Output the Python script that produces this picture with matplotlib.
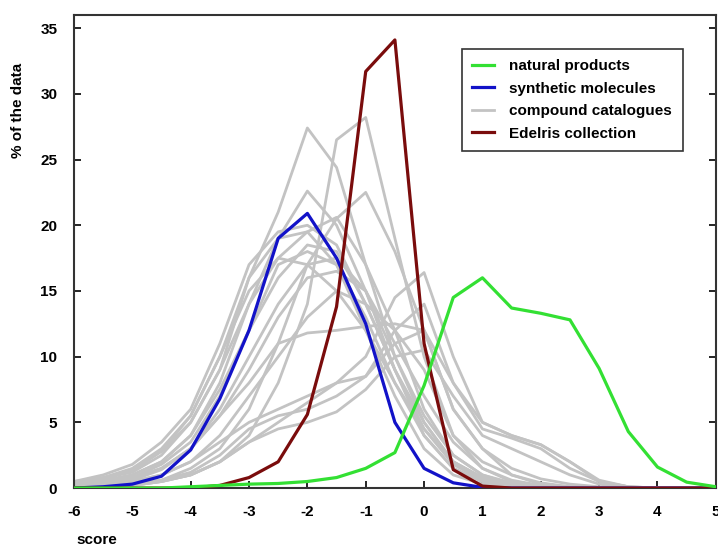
import numpy as np
import matplotlib
matplotlib.use("Agg")
import matplotlib.pyplot as plt

plt.rcParams['font.family'] = ['Liberation Sans', 'DejaVu Sans']
plt.rcParams['font.weight'] = 'bold'
plt.rcParams['axes.unicode_minus'] = False

# score bins
score = np.arange(-6, 5.01, 0.5)

natural_products = [0, 0, 0, 0, 0.1, 0.2, 0.3, 0.35, 0.5, 0.8, 1.5, 2.7,
                    7.8, 14.5, 16.0, 13.7, 13.3, 12.8, 9.1, 4.3, 1.6, 0.45, 0.1]
synthetic_molecules = [0, 0.1, 0.3, 0.9, 2.9, 6.8, 12.0, 19.0, 20.9, 17.5, 12.5,
                       5.0, 1.5, 0.4, 0.05, 0, 0, 0, 0, 0, 0, 0, 0]
edelris_collection = [0, 0, 0, 0, 0, 0.2, 0.8, 2.0, 5.6, 13.8, 31.7, 34.1,
                      11.0, 1.4, 0.15, 0, 0, 0, 0, 0, 0, 0, 0]

# compound catalogues (one row per vendor)
compound_catalogues = [
    [0.5, 0.8, 1.2, 2.5, 5, 9, 16, 21, 27.4, 24.4, 17, 10, 5, 2, 0.8, 0.3, 0.1, 0, 0, 0, 0, 0, 0],
    [0, 0, 0.2, 0.5, 1, 2, 4, 8, 14, 26.5, 28.2, 19, 10, 4, 1.5, 0.5, 0.2, 0, 0, 0, 0, 0, 0],
    [0.3, 0.6, 1, 2, 4, 8, 14, 19, 22.6, 20, 15, 9, 4, 1.5, 0.5, 0.2, 0, 0, 0, 0, 0, 0, 0],
    [0, 0, 0.3, 0.6, 1.5, 3, 6, 11, 17, 20.5, 22.5, 18, 12, 6, 3, 1, 0.3, 0.1, 0, 0, 0, 0, 0],
    [0.2, 0.4, 0.8, 1.5, 3, 5.5, 8, 11, 11.8, 12, 12.3, 12.5, 12, 6, 3, 1.5, 0.7, 0.3, 0.1, 0, 0, 0, 0],
    [0, 0, 0.2, 0.5, 1, 2, 3.5, 5, 6.5, 8, 10, 14.5, 16.4, 10, 5, 4, 3.3, 2, 0.5, 0.1, 0, 0, 0],
    [0, 0.2, 0.5, 1, 2, 3.5, 5, 6, 7, 8, 8.5, 12, 14, 8, 4.5, 3.8, 3, 1.5, 0.5, 0.1, 0, 0, 0],
    [0.5, 1, 1.8, 3.5, 6, 11, 17, 19.5, 20, 18.5, 14, 9, 4.5, 1.8, 0.6, 0.2, 0, 0, 0, 0, 0, 0, 0],
    [0.3, 0.7, 1.3, 2.8, 5, 9, 14, 17.5, 19.5, 20.6, 17, 12, 6, 2.5, 1, 0.3, 0.1, 0, 0, 0, 0, 0, 0],
    [0.2, 0.5, 1, 2, 4, 7.5, 12, 16, 18.5, 18, 14, 9, 5, 2, 0.7, 0.2, 0, 0, 0, 0, 0, 0, 0],
    [0.2, 0.4, 0.8, 1.8, 3.5, 7, 12, 17, 18, 17, 13, 8, 4, 1.5, 0.5, 0.1, 0, 0, 0, 0, 0, 0, 0],
    [0.1, 0.3, 0.6, 1.4, 3, 6, 10, 14, 17, 17.5, 15, 10, 5.5, 2.5, 1, 0.4, 0.1, 0, 0, 0, 0, 0, 0],
    [0.4, 0.8, 1.5, 3, 5.5, 10, 15, 17.5, 17, 15, 12, 8, 4.5, 2, 0.8, 0.3, 0.1, 0, 0, 0, 0, 0, 0],
    [0.1, 0.3, 0.7, 1.5, 3, 5.5, 9, 13, 16, 16.5, 15, 11, 7, 3.5, 1.5, 0.6, 0.2, 0, 0, 0, 0, 0, 0],
    [0, 0.2, 0.5, 1, 2, 4, 7, 10, 13, 15, 14, 12, 9, 4, 2, 1, 0.4, 0.1, 0, 0, 0, 0, 0],
    [0, 0.1, 0.3, 0.6, 1.2, 2.5, 4.5, 5.5, 6, 7, 8.5, 11, 12, 8, 5, 4, 3.3, 2, 0.6, 0.1, 0, 0, 0],
    [0, 0.1, 0.2, 0.5, 1, 2, 3.5, 4.5, 5, 5.8, 7.5, 10, 10.5, 7, 4, 3, 2, 1, 0.3, 0, 0, 0, 0],
    [0.3, 0.7, 1.4, 2.8, 5.5, 10, 16, 19, 19.5, 17, 12, 7, 3, 1, 0.3, 0.1, 0, 0, 0, 0, 0, 0, 0],
]

fig = plt.figure(figsize=(7.18, 5.54), dpi=100)
ax = fig.add_axes([0.103, 0.119, 0.894, 0.854])

for i, cat in enumerate(compound_catalogues):
    ax.plot(score, cat, color='#c3c3c3', lw=2.0,
            label='compound catalogues' if i == 0 else None, zorder=2)

ax.plot(score, synthetic_molecules, color='#1212c8', lw=2.3, label='synthetic molecules', zorder=3)
ax.plot(score, edelris_collection, color='#7a0c0c', lw=2.3, label='Edelris collection', zorder=4)
ax.plot(score, natural_products, color='#33e033', lw=2.3, label='natural products', zorder=5)

ax.set_xlim(-6, 5)
ax.set_ylim(0, 36)
ax.set_xticks(range(-6, 6))
ax.set_yticks(range(0, 36, 5))
ax.tick_params(direction='in', length=5, width=1.2, labelsize=11, pad=12,
               top=False, right=True)
for lab in ax.get_xticklabels() + ax.get_yticklabels():
    lab.set_fontweight('bold')
for sp in ax.spines.values():
    sp.set_linewidth(1.5)
    sp.set_color('#333333')

# legend order as in the picture
h, l = ax.get_legend_handles_labels()
order = ['natural products', 'synthetic molecules', 'compound catalogues', 'Edelris collection']
hh = [h[l.index(o)] for o in order]
leg = ax.legend(hh, order, loc='upper right', bbox_to_anchor=(0.96, 0.945),
                fancybox=False, edgecolor='#333333', framealpha=1,
                prop={'weight': 'bold', 'size': 11}, handlelength=1.4,
                borderpad=0.7, labelspacing=0.55, handletextpad=1.0)
leg.get_frame().set_linewidth(1.2)

fig.text(0.135, 0.012, 'score', fontsize=11, fontweight='bold', ha='center', va='bottom')
fig.text(0.025, 0.80, '% of the data', fontsize=11, fontweight='bold',
         rotation=90, ha='center', va='center')

fig.savefig('out.png', dpi=100)
